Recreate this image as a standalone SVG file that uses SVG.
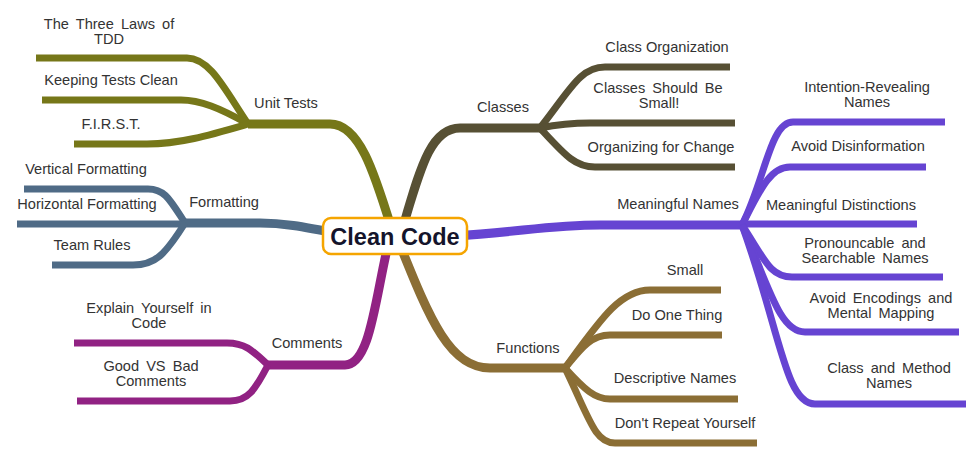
<svg xmlns="http://www.w3.org/2000/svg" width="975" height="456" viewBox="0 0 975 456">
<style>
.m{fill:none;stroke-width:9;stroke-linecap:butt}
.s{fill:none;stroke-width:7;stroke-linecap:butt}
.t{font-family:"Liberation Sans",Arial,sans-serif;font-size:14.6px;fill:#333;text-anchor:middle}
.j{word-spacing:3px}
.ut{stroke:#767719}.fm{stroke:#4F6B86}.cm{stroke:#912283}.cl{stroke:#575034}.mn{stroke:#6644D2}.fn{stroke:#8B6E35}
</style>
<rect width="975" height="456" fill="#fff"/>
<g id="connectors">
<path class="m ut" d="M392,230 C375,175 360,124 330,124 H248"/>
<path class="s ut" d="M248,124 C225,90 210,58 187,58 H36"/>
<path class="s ut" d="M248,124 C220,108 200,100 181,100 H42"/>
<path class="s ut" d="M248,124 C210,135 180,144 147,144 H74"/>
<path class="m fm" d="M340,234 C300,226 282,223 260,223 H185"/>
<path class="s fm" d="M185,223 C170,200 165,189 148,189 H24"/>
<path class="s fm" d="M185,224 H17"/>
<path class="s fm" d="M185,223 C165,255 155,265 133,265 H52"/>
<path class="m cm" d="M388,245 C375,300 370,365 345,365 H268"/>
<path class="s cm" d="M268,365 C252,350 245,343 227,343 H74"/>
<path class="s cm" d="M268,365 C255,390 248,401 230,401 H77"/>
<path class="m cl" d="M402,230 C420,170 430,128 460,128 H540"/>
<path class="s cl" d="M540,128 C570,90 580,67 605,67 H730"/>
<path class="s cl" d="M540,128 C560,124 570,123 590,123 H735"/>
<path class="s cl" d="M540,128 C565,155 575,167 595,167 H735"/>
<path class="m mn" d="M455,236 C520,232 550,225 600,225 H742"/>
<path class="s mn" d="M742,225 C765,180 770,122 793,122 H945"/>
<path class="s mn" d="M742,225 C760,190 770,167 790,167 H926"/>
<path class="s mn" d="M742,224 H917"/>
<path class="s mn" d="M742,225 C765,260 770,277 792,277 H943"/>
<path class="s mn" d="M742,225 C770,290 780,332 805,332 H959"/>
<path class="s mn" d="M742,225 C780,330 785,404 815,404 H966"/>
<path class="m fn" d="M400,245 C430,320 450,368 490,368 H565"/>
<path class="s fn" d="M565,368 C600,320 620,290 650,290 H721"/>
<path class="s fn" d="M565,368 C580,350 590,335 610,335 H722"/>
<path class="s fn" d="M565,368 C585,390 595,399 610,399 H738"/>
<path class="s fn" d="M565,368 C590,420 595,443 615,443 H757"/>
</g>
<g id="root">
<rect x="323" y="218" width="144" height="36" rx="8" fill="#fff" stroke="#F5A500" stroke-width="2.5"/>
<text x="395" y="245" font-family="Liberation Sans,Arial,sans-serif" font-size="23.5" font-weight="bold" fill="#14142b" text-anchor="middle">Clean Code</text>
</g>
<g id="unit-tests"><text class="t" x="286" y="108">Unit Tests</text></g>
<g id="three-laws"><text class="t j" x="109" y="29">The Three Laws of</text><text class="t" x="109" y="44">TDD</text></g>
<g id="keeping-tests"><text class="t" x="111" y="85">Keeping Tests Clean</text></g>
<g id="first"><text class="t" x="111" y="129">F.I.R.S.T.</text></g>
<g id="formatting"><text class="t" x="224" y="207">Formatting</text></g>
<g id="vertical"><text class="t" x="86" y="174">Vertical Formatting</text></g>
<g id="horizontal"><text class="t" x="87" y="209">Horizontal Formatting</text></g>
<g id="team-rules"><text class="t" x="92" y="250">Team Rules</text></g>
<g id="comments"><text class="t" x="307" y="348">Comments</text></g>
<g id="explain"><text class="t j" x="149" y="313">Explain Yourself in</text><text class="t" x="149" y="328">Code</text></g>
<g id="good-bad"><text class="t j" x="151" y="371">Good VS Bad</text><text class="t" x="151" y="386">Comments</text></g>
<g id="classes"><text class="t" x="503" y="112">Classes</text></g>
<g id="class-org"><text class="t" x="667" y="52">Class Organization</text></g>
<g id="classes-small"><text class="t j" x="658" y="93">Classes Should Be</text><text class="t" x="659" y="108">Small!</text></g>
<g id="org-change"><text class="t" x="661" y="152">Organizing for Change</text></g>
<g id="meaningful-names"><text class="t" x="678" y="209">Meaningful Names</text></g>
<g id="intention"><text class="t" x="867" y="92">Intention-Revealing</text><text class="t" x="867" y="107">Names</text></g>
<g id="disinfo"><text class="t" x="858" y="151">Avoid Disinformation</text></g>
<g id="distinctions"><text class="t" x="841" y="210">Meaningful Distinctions</text></g>
<g id="pronouncable"><text class="t j" x="865" y="248">Pronouncable and</text><text class="t j" x="865" y="263">Searchable Names</text></g>
<g id="encodings"><text class="t j" x="881" y="303">Avoid Encodings and</text><text class="t j" x="881" y="318">Mental Mapping</text></g>
<g id="class-method"><text class="t j" x="889" y="373">Class and Method</text><text class="t" x="889" y="388">Names</text></g>
<g id="functions"><text class="t" x="528" y="353">Functions</text></g>
<g id="small"><text class="t" x="685" y="275">Small</text></g>
<g id="one-thing"><text class="t" x="677" y="320">Do One Thing</text></g>
<g id="descriptive"><text class="t" x="675" y="383">Descriptive Names</text></g>
<g id="dry"><text class="t" x="685" y="428">Don't Repeat Yourself</text></g>
</svg>
